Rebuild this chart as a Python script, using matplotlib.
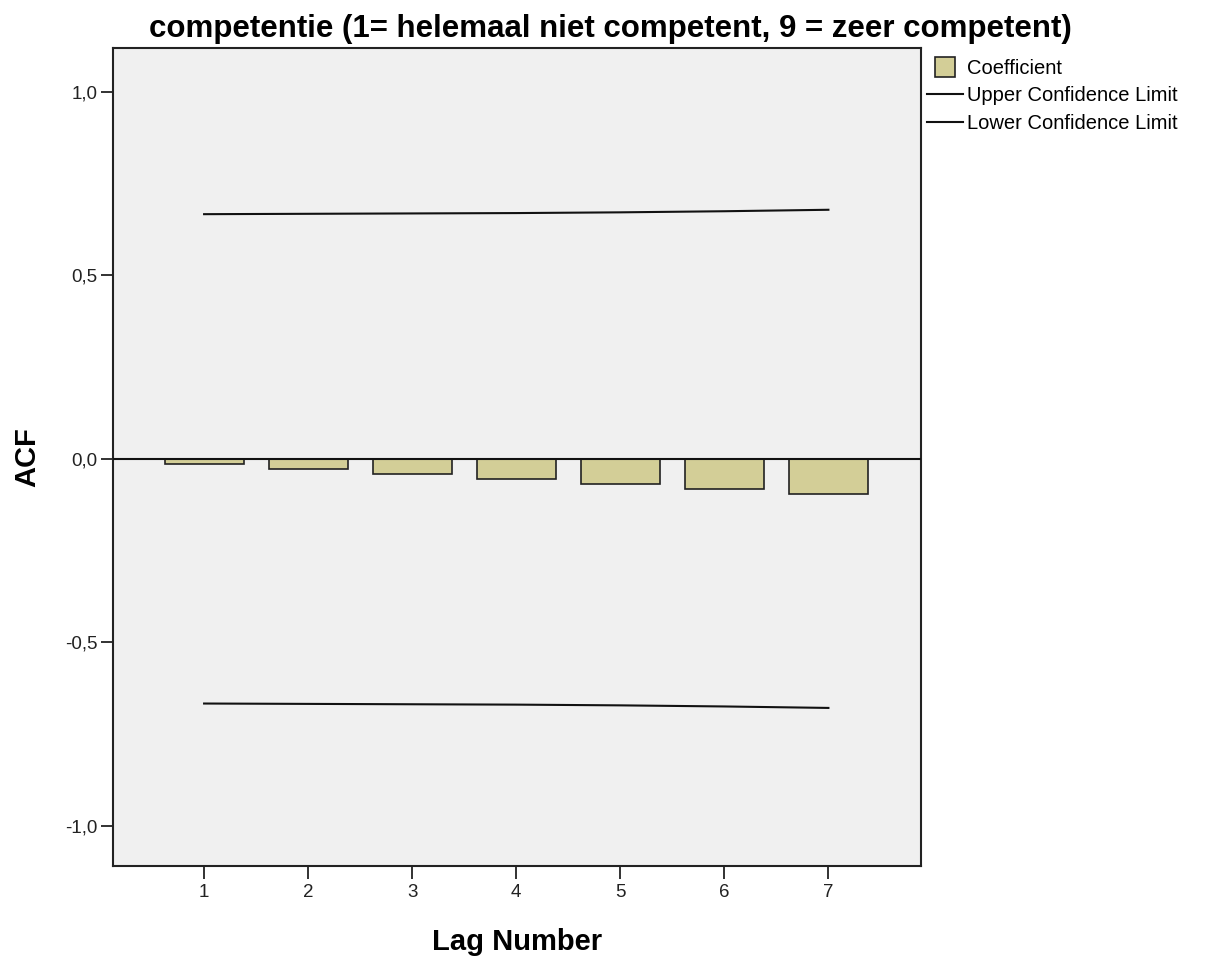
import matplotlib
matplotlib.use("Agg")
import matplotlib.pyplot as plt
from matplotlib.lines import Line2D
from matplotlib.ticker import FuncFormatter

plt.rcParams['font.family'] = ['Liberation Sans', 'DejaVu Sans']

# ACF values
lags = [1, 2, 3, 4, 5, 6, 7]
acf = [-0.014, -0.028, -0.040, -0.055, -0.069, -0.083, -0.095]
upper_limit = [0.667, 0.668, 0.669, 0.670, 0.672, 0.675, 0.679]
lower_limit = [-0.667, -0.668, -0.669, -0.670, -0.672, -0.675, -0.679]

title = 'competentie (1= helemaal niet competent, 9 = zeer competent)'
bar_color = '#d3ce97'

fig = plt.figure(figsize=(12.09, 9.58), dpi=100)
ax = fig.add_axes([0.0935, 0.0960, 0.6683, 0.8539])
ax.set_facecolor('#f0f0f0')

ax.bar(lags, acf, width=0.76, color=bar_color, edgecolor='#222222',
       linewidth=1.2, zorder=2)
ax.plot(lags, upper_limit, color='#111111', lw=1.5, zorder=3)
ax.plot(lags, lower_limit, color='#111111', lw=1.5, zorder=3)
ax.axhline(0, color='#111111', lw=1.5, zorder=3)

ax.set_xlim(0.125, 7.89)
ax.set_ylim(-1.11, 1.12)
ax.set_xticks(lags)
ax.set_yticks([-1.0, -0.5, 0.0, 0.5, 1.0])
ax.yaxis.set_major_formatter(FuncFormatter(lambda v, p: f'{v:.1f}'.replace('.', ',')))
ax.tick_params(axis='both', direction='out', length=9, width=1.3,
               labelsize=13.5, colors='#222222')
ax.tick_params(axis='y', pad=2)
ax.tick_params(axis='x', pad=4)

for s in ax.spines.values():
    s.set_color('#222222')
    s.set_linewidth(1.5)

ax.set_xlabel('Lag Number', fontsize=21, fontweight='bold')
ax.xaxis.label.set_va('center')
ax.xaxis.set_label_coords(0.5, (866 - 942) / 818)
ax.set_ylabel('ACF', fontsize=21, fontweight='bold')
ax.yaxis.label.set_va('center')
ax.yaxis.set_label_coords((27 - 113) / 808, 0.5)

fig.text(0.5045, 1 - 29 / 958, title, ha='center', va='center',
         fontsize=22.5, fontweight='bold')

handles = [
    Line2D([], [], marker='s', markersize=14, linestyle='none',
           markerfacecolor=bar_color, markeredgecolor='#222222', markeredgewidth=1.2),
    Line2D([], [], color='#111111', lw=1.5),
    Line2D([], [], color='#111111', lw=1.5),
]
labels = ['Coefficient', 'Upper Confidence Limit', 'Lower Confidence Limit']
fig.legend(handles, labels, loc='upper left',
           bbox_to_anchor=(927 / 1209, 1 - 59 / 958), frameon=False,
           fontsize=14.5, handlelength=1.8, handletextpad=0.2,
           borderpad=0, borderaxespad=0, labelspacing=0.42)

fig.savefig('out.png', dpi=100)
